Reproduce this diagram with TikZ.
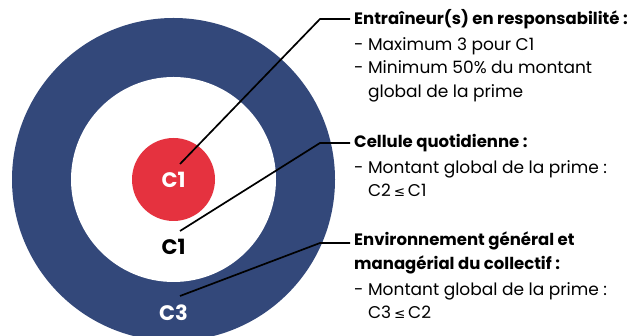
\documentclass[tikz,border=0pt]{standalone}
\usepackage{fontspec}
\setmainfont{Poppins}
\newfontfamily\symfont{DejaVu Sans}
\usetikzlibrary{positioning}
\definecolor{navy}{RGB}{51,72,122}
\definecolor{cellred}{RGB}{229,50,63}
\newcommand{\lesseq}{\,{\symfont\fontsize{13.5}{13.5}\selectfont ≤}\,}

\begin{document}
\begin{tikzpicture}[x=1pt,y=1pt,
  ringlabel/.style={font=\fontsize{21}{21}\selectfont\bfseries, inner sep=0pt},
  heading/.style={font=\fontsize{16.5}{23.5}\selectfont\bfseries, anchor=west,
    align=left, inner xsep=4pt, inner ysep=0pt},
  bodytext/.style={font=\fontsize{17}{23.5}\selectfont, anchor=north west,
    align=left, inner xsep=4pt, inner ysep=0pt},
  leader/.style={line width=1.7pt}]
  \useasboundingbox (0,0) rectangle (634,336);
  \clip (0,0) rectangle (634,336);

  % Target rings
  \coordinate (ctr) at (173.5,156.5);
  \fill[navy] (ctr) circle (161.5);
  \fill[white] (ctr) circle (102.5);
  \fill[cellred] (ctr) circle (41.5);

  % Ring labels
  \node[ringlabel, white] (c1in) at (ctr) {C1};
  \node[ringlabel] (c1mid) at (173.5,89) {C1};
  \node[ringlabel, white] (c3out) at (173.5,23) {C3};

  % Leader ends and elbows
  \coordinate (d1) at (180,172);
  \coordinate (d2) at (180,105);
  \coordinate (d3) at (180,40);
  \coordinate (k1) at (320,317);
  \coordinate (k2) at (320,193);
  \coordinate (k3) at (320,93);

  % Texts
  \node[heading] (h1) at (350,317) {Entraîneur(s) en responsabilité :};
  \node[bodytext, below=8pt of h1.south west, anchor=north west] (b1)
    {- Maximum 3 pour C1\\- Minimum 50\% du montant\\\phantom{- }global de la prime};
  \node[heading] (h2) at (350,193) {Cellule quotidienne :};
  \node[bodytext, below=8pt of h2.south west, anchor=north west] (b2)
    {- Montant global de la prime :\\\phantom{- }C2\lesseq C1};
  \node[heading, anchor=north west] (h3) at (350,104)
    {Environnement général et\\managérial du collectif :};
  \node[bodytext, below=8pt of h3.south west, anchor=north west] (b3)
    {- Montant global de la prime :\\\phantom{- }C3\lesseq C2};

  % Leaders
  \draw[leader] (d1) -- (k1) -- (h1.west);
  \draw[leader] (d2) -- (k2) -- (h2.west);
  \draw[leader] (d3) -- (k3) -- (h3.north west |- k3);
\end{tikzpicture}
\end{document}
